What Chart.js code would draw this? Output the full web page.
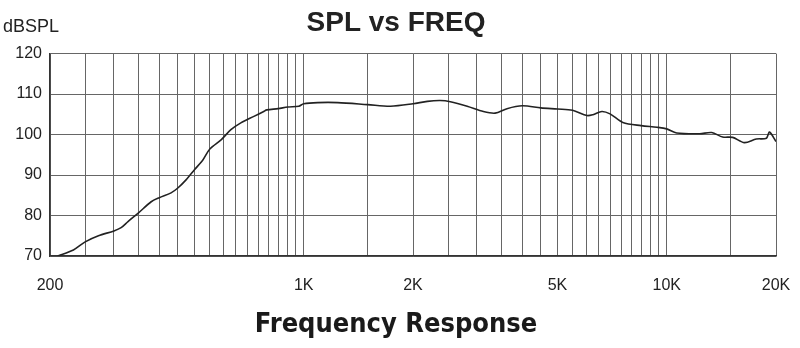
<!DOCTYPE html>
<html>
<head>
<meta charset="utf-8">
<script src="https://cdn.jsdelivr.net/npm/chart.js@4.4.0/dist/chart.umd.min.js"></script>
<style>
  html, body { margin: 0; padding: 0; background: #fff; }
  #wrap { width: 800px; height: 348px; }
</style>
</head>
<body>
<div id="wrap"><canvas id="myChart"></canvas></div>
<script>
// frequency (Hz) and level (dB SPL)
const freqs = [210, 232, 250, 272, 300, 314, 328, 350, 380, 400, 431, 450, 474, 500, 528, 552, 592, 630, 671, 729,
    776, 791, 850, 904, 969, 1000, 1093, 1240, 1500, 1734, 2000, 2191, 2378, 2535, 2820, 3126, 3367, 3630, 4000, 4500,
    5000, 5500, 6030, 6260, 6630, 6980, 7570, 8500, 9400, 10000, 10650, 12330, 13300, 14260, 15190, 16370, 17650, 18820, 19190, 20000];
const spl = [70, 71.5, 73.5, 75, 76.2, 77, 78.5, 80.6, 83.4, 84.4, 85.6, 86.8, 88.8, 91.3, 93.8, 96.5, 98.7, 101.2, 102.9, 104.5,
    105.7, 106.1, 106.4, 106.8, 107.0, 107.6, 107.9, 107.9, 107.4, 107.0, 107.6, 108.2, 108.4, 108.1, 107.0, 105.7, 105.3, 106.4, 107.1, 106.6,
    106.3, 106.0, 104.7, 104.9, 105.7, 105.1, 103.0, 102.2, 101.8, 101.4, 100.4, 100.2, 100.5, 99.4, 99.3, 98.0, 98.9, 99.1, 100.6, 98.3];

// vertical grid lines, and the ones that get a label
const gridFreqs = [200, 250, 300, 350, 400, 450, 500, 550, 600, 650, 700, 750, 800, 850, 900, 950,
    1000, 1500, 2000, 2500, 3000, 3500, 4000, 4500, 5000, 5500, 6000, 6500, 7000, 7500, 8000, 8500, 9000, 9500,
    10000, 15000, 20000];
const labelFreqs = [200, 1000, 2000, 5000, 10000, 20000];
const labelNames = ['200', '1K', '2K', '5K', '10K', '20K'];

const yTicks = [70, 80, 90, 100, 110, 120];

// "dBSPL" in the top left corner
const unitLabel = {
    id: 'unitLabel',
    afterDraw(chart) {
        const c = chart.ctx;
        c.save();
        c.font = '18px "Liberation Sans", Arial, sans-serif';
        c.fillStyle = '#222';
        c.textBaseline = 'alphabetic';
        c.fillText('dBSPL', 3, 32);
        c.restore();
    }
};

const ctx = document.getElementById('myChart');

new Chart(ctx, {
    type: 'line',
    data: {
        datasets: [{
            data: freqs.map((f, i) => ({ x: f, y: spl[i] })),
            borderColor: '#222',
            borderWidth: 1.6,
            pointRadius: 0,
            tension: 0.3,
            fill: false
        }]
    },
    options: {
        responsive: true,
        maintainAspectRatio: false,
        animation: false,
        layout: {
            padding: { left: 16, right: 24, top: 0, bottom: 0 }
        },
        plugins: {
            legend: { display: false },
            tooltip: { enabled: false },
            title: {
                display: true,
                text: 'SPL vs FREQ',
                color: '#222',
                font: { family: '"Liberation Sans", Arial, sans-serif', size: 28, weight: 'bold' },
                padding: { top: 6, bottom: 14 }
            },
            // bottom caption, centred on the whole figure like the original
            subtitle: {
                display: true,
                position: 'bottom',
                text: 'Frequency Response',
                color: '#1a1a1a',
                font: { family: '"Liberation Sans Narrow", "DejaVu Sans Condensed", sans-serif', size: 27, weight: 'bold' },
                padding: { top: 12.6, bottom: 7 }
            }
        },
        scales: {
            x: {
                type: 'logarithmic',
                min: 200,
                max: 20000,
                afterBuildTicks: (scale) => {
                    scale.ticks = gridFreqs.map(v => ({ value: v }));
                },
                afterFit: (scale) => {
                    scale.height = 40;
                    scale.paddingLeft = 0;
                    scale.paddingRight = 0;
                },
                grid: {
                    color: '#666',
                    lineWidth: 1,
                    drawTicks: false
                },
                border: { color: '#333', width: 1.5 },
                ticks: {
                    autoSkip: false,
                    maxRotation: 0,
                    padding: 20,
                    color: '#222',
                    font: { family: '"Liberation Sans", Arial, sans-serif', size: 16 },
                    callback: (value) => {
                        const k = labelFreqs.indexOf(value);
                        return k >= 0 ? labelNames[k] : '';
                    }
                }
            },
            y: {
                min: 70,
                max: 120,
                afterFit: (scale) => {
                    scale.width = 34;
                    scale.paddingTop = 0;
                    scale.paddingBottom = 0;
                },
                grid: {
                    color: '#666',
                    lineWidth: 1,
                    drawTicks: false
                },
                border: { color: '#333', width: 1.5 },
                ticks: {
                    stepSize: 5,
                    padding: 8,
                    color: '#222',
                    font: { family: '"Liberation Sans", Arial, sans-serif', size: 16 },
                    callback: (value) => yTicks.includes(value) ? String(value) : ''
                }
            }
        }
    },
    plugins: [unitLabel]
});
</script>
</body>
</html>
